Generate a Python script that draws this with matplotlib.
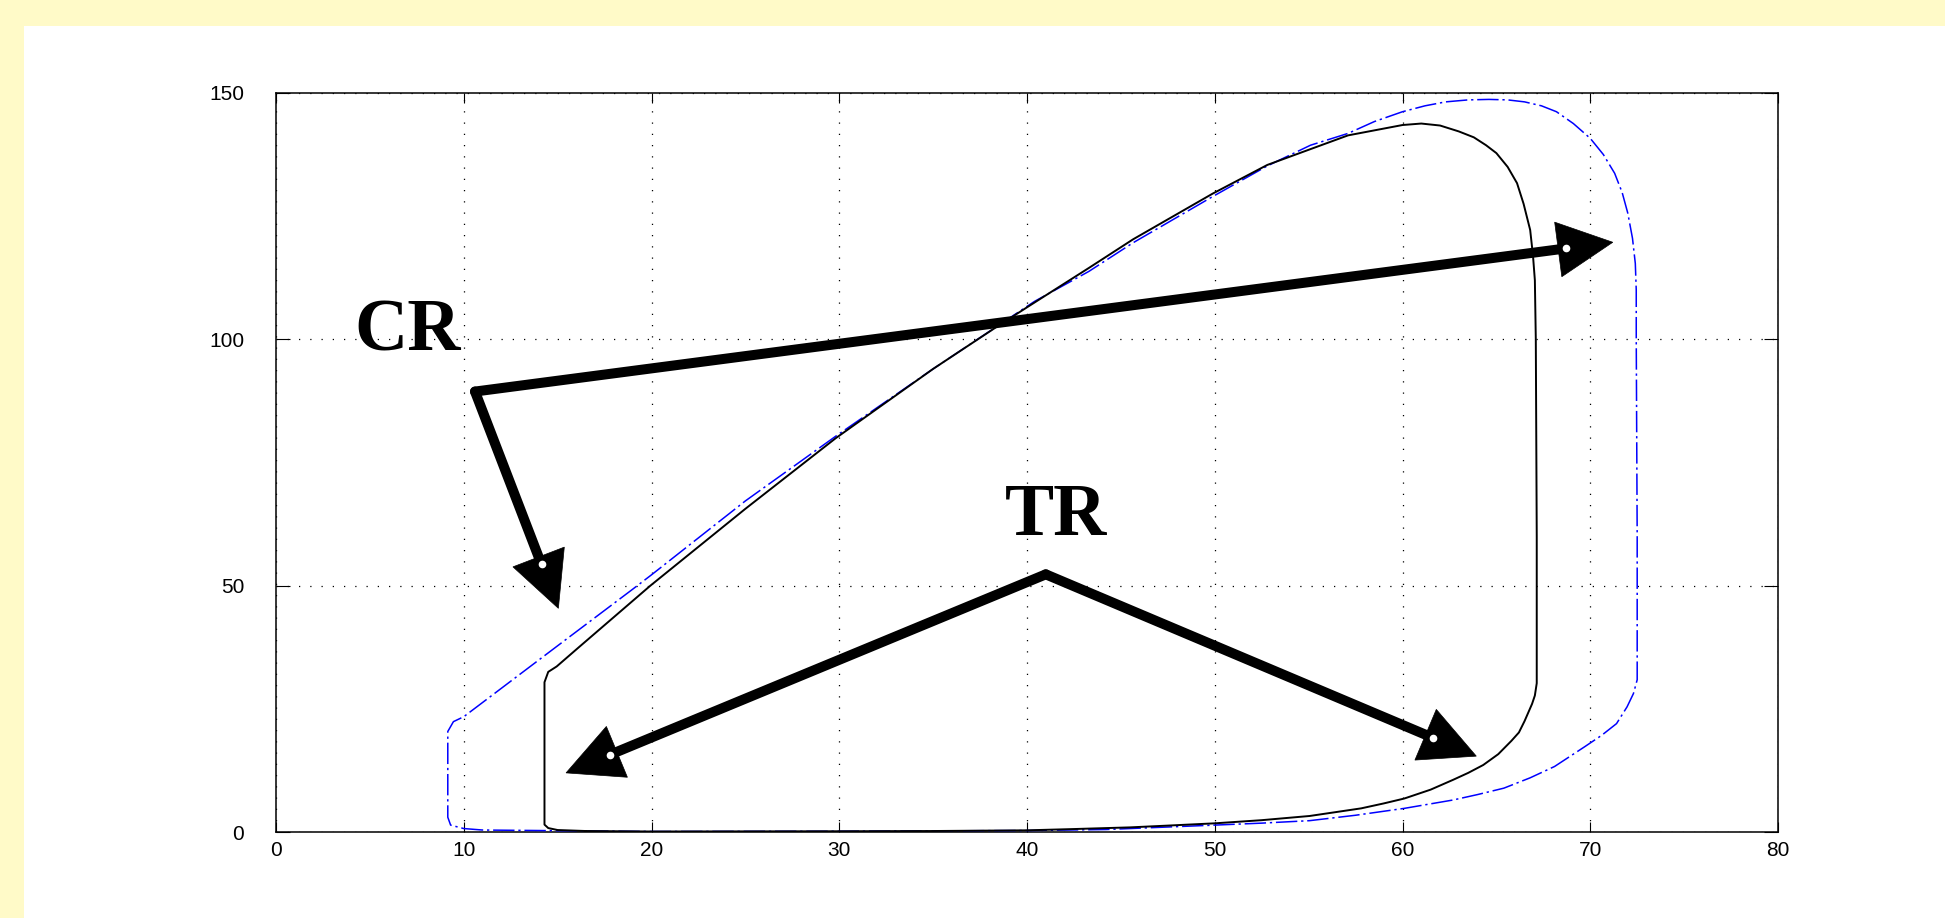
import matplotlib.pyplot as plt
import numpy as np
from matplotlib.patches import Rectangle, Polygon

# inner loop (solid black)
black_x = [16.5, 15.0, 14.5, 14.3, 14.3, 14.3, 14.3, 14.5, 14.95, 16.1, 19.94, 25.0, 29.8,
           31.9, 35.0, 38.25, 40.0, 43.3, 45.65, 49.9, 52.8, 57.1, 60.0, 61.0, 62.0, 63.0, 63.8,
           64.45, 65.0, 65.6, 66.1, 66.45, 66.8, 66.95, 67.05, 67.1, 67.15, 67.15, 67.05,
           66.9, 66.5, 66.2, 65.8, 65.1, 64.3, 63.5, 62.7, 61.5, 60.1, 59.0, 57.8, 55.05,
           52.5, 50.0, 47.5, 45.5, 42.5, 40.0, 35.0, 30.0, 20.0, 16.5]
black_y = [0.2, 0.4, 0.8, 1.5, 10.0, 20.0, 30.4, 32.5, 33.6, 37.4, 50.0, 65.6, 79.9,
           85.6, 94.0, 102.2, 106.5, 114.5, 120.3, 129.6, 135.4, 141.4, 143.5, 143.8, 143.4, 142.2, 141.0,
           139.4, 137.8, 135.0, 131.7, 127.5, 122.2, 117.0, 112.0, 100.0, 60.0, 30.2, 27.7,
           26.0, 22.5, 20.2, 18.5, 15.8, 13.6, 12.0, 10.6, 8.6, 6.8, 5.8, 4.8, 3.25,
           2.4, 1.76, 1.3, 0.94, 0.6, 0.34, 0.2, 0.15, 0.1, 0.2]

# outer loop (blue dash-dot)
blue_x = [11.0, 10.0, 9.3, 9.15, 9.15, 9.45, 10.0, 15.0, 18.9, 20.0, 25.0, 29.8, 35.0,
          40.4, 43.3, 45.65, 49.9, 52.8, 55.1, 57.1, 58.5, 60.0, 61.2, 62.3, 63.5, 64.6,
          65.6, 66.5, 67.4, 68.2, 69.1, 70.0, 70.7, 71.3, 71.7, 72.0, 72.25, 72.4, 72.45,
          72.45, 72.5, 72.5, 72.3, 71.96, 71.4, 70.6, 69.7, 68.1, 66.8, 65.4, 64.0, 62.7,
          60.1, 57.5, 55.05, 52.5, 50.0, 44.2, 40.0, 30.0, 20.0, 11.0]
blue_y = [0.4, 0.7, 1.4, 3.0, 20.4, 22.4, 23.4, 37.8, 49.0, 52.2, 67.2, 80.3, 94.0,
          107.7, 113.8, 119.6, 129.0, 135.2, 139.4, 141.8, 144.2, 146.2, 147.4, 148.2, 148.6, 148.7,
          148.6, 148.2, 147.4, 146.2, 143.8, 140.8, 137.5, 133.7, 129.8, 125.6, 120.5, 115.4, 110.0,
          100.0, 60.0, 30.9, 28.1, 25.4, 22.0, 19.6, 17.3, 13.3, 11.0, 8.9, 7.6, 6.5,
          4.8, 3.4, 2.3, 1.8, 1.4, 0.5, 0.3, 0.15, 0.1, 0.4]

x_ticks = [0, 10, 20, 30, 40, 50, 60, 70, 80]
y_ticks = [0, 50, 100, 150]

# annotation arrows: (start, tip) in data units
arrows = [((10.6, 89.4), (71.2, 119.7)),
          ((10.6, 89.4), (15.04, 45.4)),
          ((41.0, 52.3), (15.45, 12.0)),
          ((41.0, 52.3), (63.93, 15.4))]
labels = [("CR", 4.2, 97.7), ("TR", 38.84, 60.3)]


def draw_arrow(ax, start, tip, head_len=55, head_w=55, shaft_px=10):
    tr = ax.transData
    p0 = tr.transform(start)
    p1 = tr.transform(tip)
    d = p1 - p0
    u = d / np.hypot(*d)
    n = np.array([-u[1], u[0]])
    base = p1 - u * head_len
    tri = np.array([p1, base + n * head_w / 2, base - n * head_w / 2])
    inv = tr.inverted()
    ax.add_patch(Polygon(inv.transform(tri), closed=True, facecolor='k',
                         edgecolor='k', lw=0.5, zorder=5))
    end = base + u * 8
    s = inv.transform(np.array([p0, end]))
    ax.plot(s[:, 0], s[:, 1], color='k', lw=shaft_px * 72 / 100,
            solid_capstyle='round', zorder=5)
    dot = inv.transform(end.reshape(1, 2))[0]
    ax.plot(dot[0], dot[1], 'o', color='white', ms=5.5, mew=0, zorder=6)


fig = plt.figure(figsize=(19.45, 9.18), dpi=100, facecolor='#fffac8')
bg = Rectangle((24 / 1945, 0), 1, (918 - 26) / 918, transform=fig.transFigure,
               facecolor='white', edgecolor='none', zorder=-10)
fig.add_artist(bg)
ax = fig.add_axes([276 / 1945, 1 - 832 / 918, (1778 - 276) / 1945, (832 - 93) / 918])
ax.set_zorder(1)
ax.set_xlim(0, 80)
ax.set_ylim(0, 150)
ax.set_xticks(x_ticks)
ax.set_yticks(y_ticks)
ax.grid(True, color='k', lw=0.9, linestyle=(0, (1, 8)))
ax.set_axisbelow(True)
for sp in ax.spines.values():
    sp.set_linewidth(1.1)

ax.tick_params(axis='x', direction='in', length=7, width=0.8, pad=6.5,
               top=True, labelsize=15)
ax.tick_params(axis='y', direction='in', length=10, width=0.8, pad=23,
               right=True, labelsize=15)
for lab in ax.get_xticklabels() + ax.get_yticklabels():
    lab.set_fontfamily('Liberation Sans')

ax.plot(blue_x, blue_y, color='blue', lw=1.1, dashes=(14, 2.5, 1.5, 2.5), zorder=3)
ax.plot(black_x, black_y, color='k', lw=1.4, zorder=3)

for start, tip in arrows:
    draw_arrow(ax, start, tip)

for txt, x, y in labels:
    ax.text(x, y, txt, fontsize=53, fontweight='bold', family='Liberation Serif',
            ha='left', va='baseline', zorder=6)

plt.savefig('out.png', dpi=100, facecolor=fig.get_facecolor())
